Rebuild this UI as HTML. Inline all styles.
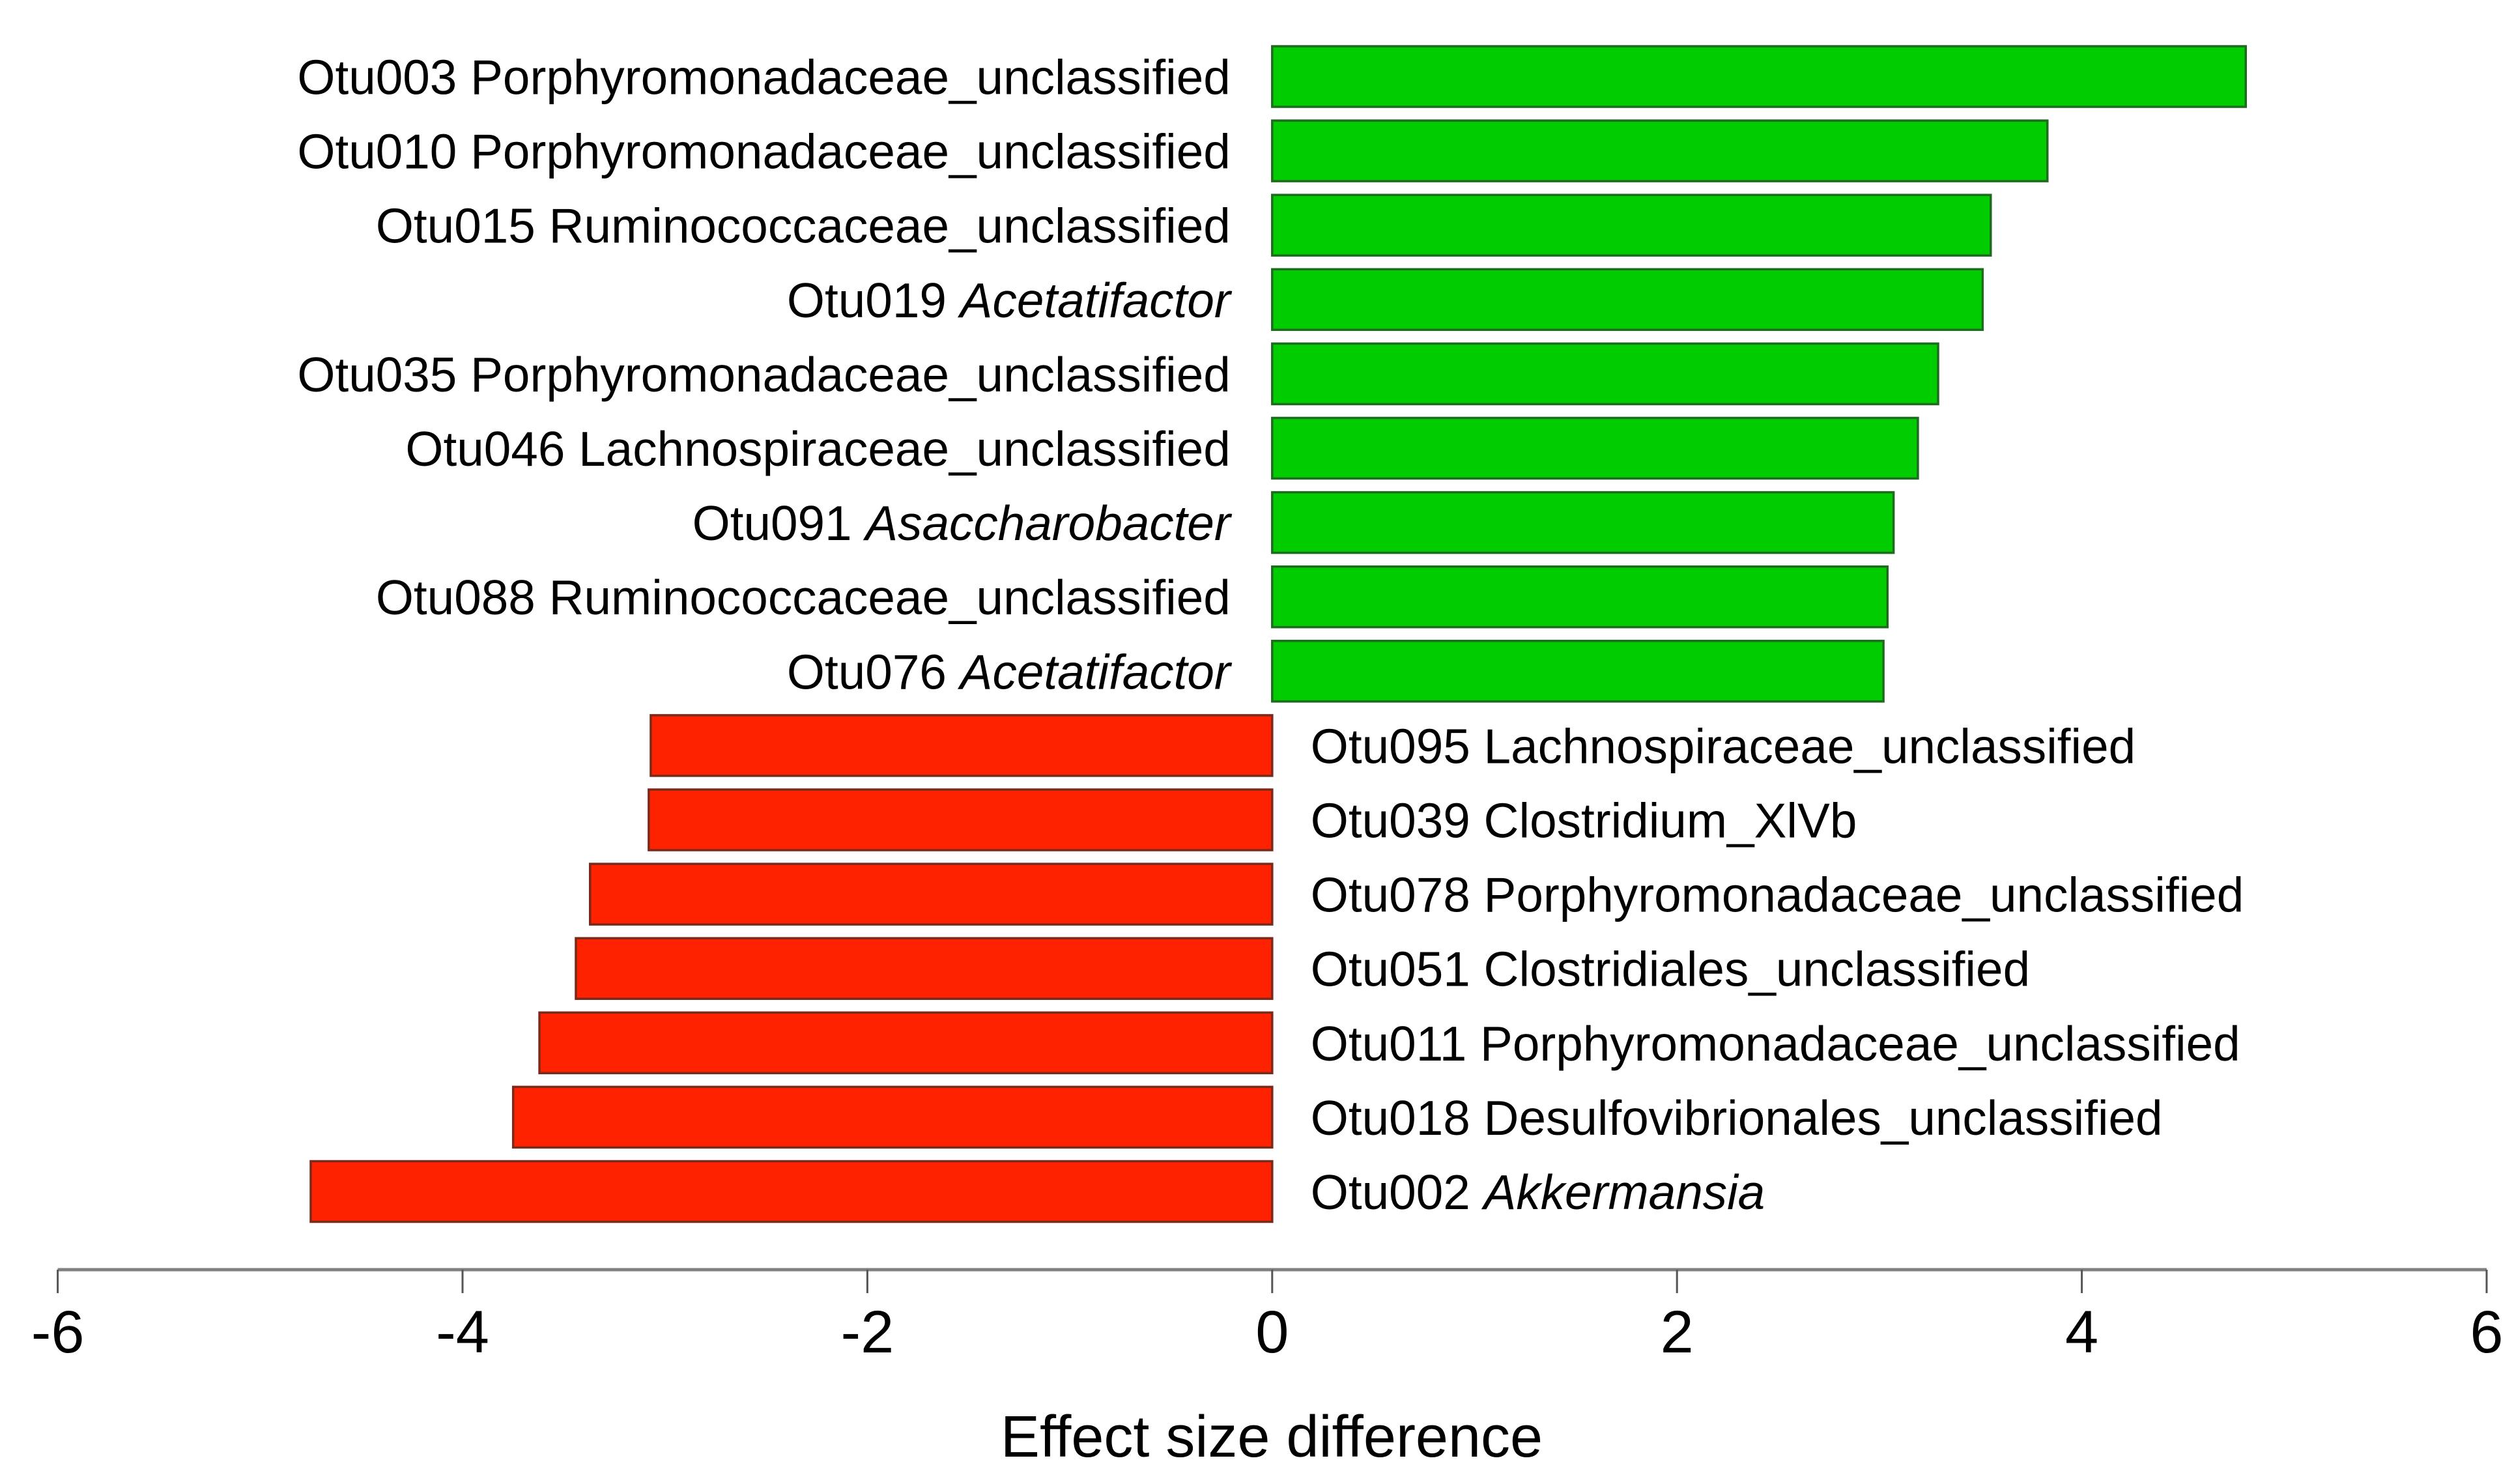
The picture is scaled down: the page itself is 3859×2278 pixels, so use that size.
<!DOCTYPE html>
<html><head><meta charset="utf-8"><style>
html,body{margin:0;padding:0;background:#fff;}
svg{display:block;font-family:"Liberation Sans",Arial,sans-serif;}
</style></head><body>
<svg id="chart" width="3859" height="2278" viewBox="0 0 3859 2278" xmlns="http://www.w3.org/2000/svg">
<g id="bars"></g>
<g id="labels"></g>
<g id="axis"></g>
<text x="1952" y="2236" text-anchor="middle" font-size="90" fill="#000">Effect size difference</text>
</svg>
<script>
const otuIds = ["Otu003","Otu010","Otu015","Otu019","Otu035","Otu046","Otu091","Otu088","Otu076","Otu095","Otu039","Otu078","Otu051","Otu011","Otu018","Otu002"];
const taxa = ["Porphyromonadaceae_unclassified","Porphyromonadaceae_unclassified","Ruminococcaceae_unclassified","Acetatifactor","Porphyromonadaceae_unclassified","Lachnospiraceae_unclassified","Asaccharobacter","Ruminococcaceae_unclassified","Acetatifactor","Lachnospiraceae_unclassified","Clostridium_XlVb","Porphyromonadaceae_unclassified","Clostridiales_unclassified","Porphyromonadaceae_unclassified","Desulfovibrionales_unclassified","Akkermansia"];
const italicTaxa = [false,false,false,true,false,false,true,false,true,false,false,false,false,false,false,true];
const effectValues = [4.81,3.83,3.55,3.51,3.29,3.19,3.07,3.04,3.02,-3.07,-3.08,-3.37,-3.44,-3.62,-3.75,-4.75];
const tickValues = [-6,-4,-2,0,2,4,6];
const tickLabels = ["-6","-4","-2","0","2","4","6"];

const NS = "http://www.w3.org/2000/svg";
const x0 = 88.6, x1 = 3817, vmin = -6, vmax = 6;
function xScale(v){ return x0 + (v - vmin) / (vmax - vmin) * (x1 - x0); }
const rowTop = 117.5, rowStep = 114.1, barH = 93;
function yScale(i){ return rowTop + i * rowStep; }
function mk(tag, attrs){ const e = document.createElementNS(NS, tag); for (const k in attrs) e.setAttribute(k, attrs[k]); return e; }

const bars = document.getElementById('bars');
const labels = document.getElementById('labels');
effectValues.forEach((v, i) => {
  const xa = xScale(0), xb = xScale(v);
  const pos = v >= 0;
  const r = mk('rect', {x: Math.min(xa, xb), y: yScale(i) - barH/2, width: Math.abs(xb - xa), height: barH,
    fill: pos ? '#00cc00' : '#ff2200', stroke: pos ? '#1f6b1f' : '#7a2a1a', 'stroke-width': 3.5});
  
  
  bars.appendChild(r);
  const t = mk('text', {x: pos ? xa - 64 : xa + 59, y: yScale(i) + 27, 'font-size': 74.7, fill: '#000', 'text-anchor': pos ? 'end' : 'start'});
  
  
  const a = mk('tspan', {}); a.textContent = otuIds[i] + ' ';
  const b = mk('tspan', italicTaxa[i] ? {'font-style': 'italic'} : {}); b.textContent = taxa[i];
  t.appendChild(a); t.appendChild(b);
  labels.appendChild(t);
});

const axis = document.getElementById('axis');
const axisY = 1949;
const line = mk('line', {x1: x0, x2: x1, y1: axisY, y2: axisY, stroke: '#808080', 'stroke-width': 5});


axis.appendChild(line);
tickValues.forEach((v, i) => {
  const tx = xScale(v);
  const tk = mk('line', {x1: tx, x2: tx, y1: axisY, y2: axisY + 36, stroke: '#555', 'stroke-width': 3});
  
  
  axis.appendChild(tk);
  const tl = mk('text', {x: tx, y: 2076, 'font-size': 92, 'text-anchor': 'middle', fill: '#000'});
  
  
  tl.textContent = tickLabels[i];
  axis.appendChild(tl);
});
</script>
</body></html>
